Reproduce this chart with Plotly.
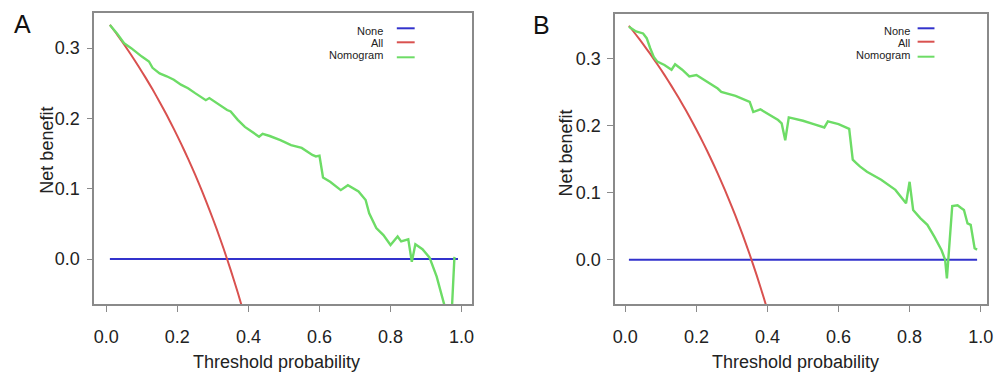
import plotly.graph_objects as go

# ---------------- data ----------------
none_x = [0.01, 0.99]
none_y = [0.0, 0.0]

# Panel A
all_x_A = [0.01, 0.03, 0.05, 0.07, 0.09, 0.11, 0.13, 0.15, 0.17, 0.19, 0.21,
           0.23, 0.25, 0.27, 0.29, 0.31, 0.33, 0.35, 0.37, 0.39]
all_y_A = [0.3333, 0.3196, 0.3053, 0.2903, 0.2747, 0.2584, 0.2414, 0.2235,
           0.2048, 0.1852, 0.1646, 0.1429, 0.1200, 0.0959, 0.0704, 0.0435,
           0.0149, -0.0154, -0.0476, -0.0820]
nomo_x_A = [0.01, 0.03, 0.05, 0.07, 0.10, 0.12, 0.13, 0.15, 0.17, 0.19,
            0.21, 0.23, 0.25, 0.27, 0.28, 0.29, 0.31, 0.34, 0.35, 0.37,
            0.39, 0.42, 0.43, 0.44, 0.46, 0.49, 0.52, 0.55, 0.58, 0.59,
            0.60, 0.61, 0.63, 0.66, 0.68, 0.71, 0.73, 0.74, 0.76, 0.78,
            0.80, 0.82, 0.83, 0.85, 0.86, 0.87, 0.89, 0.91, 0.93, 0.97,
            0.98]
nomo_y_A = [0.333, 0.321, 0.307, 0.300, 0.288, 0.281, 0.272, 0.264, 0.260, 0.255,
            0.248, 0.243, 0.236, 0.229, 0.226, 0.229, 0.222, 0.212, 0.210, 0.198,
            0.188, 0.177, 0.174, 0.178, 0.175, 0.169, 0.162, 0.158, 0.148, 0.146,
            0.147, 0.116, 0.110, 0.098, 0.105, 0.096, 0.084, 0.065, 0.044, 0.034,
            0.020, 0.032, 0.025, 0.028, -0.004, 0.021, 0.014, 0.002, -0.025, -0.100,
            0.003]

# Panel B
all_x_B = [0.01, 0.03, 0.05, 0.07, 0.09, 0.11, 0.13, 0.15, 0.17, 0.19, 0.21,
           0.23, 0.25, 0.27, 0.29, 0.31, 0.33, 0.35, 0.37, 0.39, 0.41]
all_y_B = [0.3485, 0.3351, 0.3211, 0.3065, 0.2912, 0.2753, 0.2586, 0.2412,
           0.2229, 0.2037, 0.1835, 0.1623, 0.1400, 0.1164, 0.0915, 0.0652,
           0.0373, 0.0077, -0.0238, -0.0574, -0.0932]
nomo_x_B = [0.01, 0.03, 0.05, 0.06, 0.07, 0.08, 0.09, 0.11, 0.13, 0.14,
            0.16, 0.18, 0.20, 0.22, 0.26, 0.27, 0.31, 0.35, 0.36, 0.38,
            0.40, 0.43, 0.44, 0.45, 0.46, 0.50, 0.53, 0.56, 0.57, 0.60,
            0.63, 0.64, 0.65, 0.66, 0.68, 0.72, 0.76, 0.79, 0.80, 0.81,
            0.83, 0.85, 0.87, 0.89, 0.90, 0.905, 0.92, 0.935, 0.945, 0.953,
            0.963, 0.972, 0.983, 0.99]
nomo_y_B = [0.347, 0.340, 0.337, 0.330, 0.315, 0.302, 0.295, 0.290, 0.283, 0.291,
            0.283, 0.273, 0.275, 0.268, 0.255, 0.250, 0.244, 0.235, 0.220, 0.224,
            0.218, 0.208, 0.203, 0.178, 0.212, 0.207, 0.202, 0.197, 0.206, 0.202,
            0.195, 0.149, 0.144, 0.139, 0.131, 0.119, 0.104, 0.084, 0.116, 0.074,
            0.062, 0.052, 0.034, 0.014, 0.000, -0.028, 0.080, 0.081, 0.077, 0.074,
            0.054, 0.052, 0.017, 0.015]

x_ticks = [0.0, 0.2, 0.4, 0.6, 0.8, 1.0]
y_ticks = [0.0, 0.1, 0.2, 0.3]
legend_labels = ["None", "All", "Nomogram"]

# ---------------- style ----------------
W, H = 999, 373
C_NONE = "#3232cc"
C_ALL = "#d9514f"
C_NOMO = "#6ddc66"
FONT = "Liberation Sans, Arial, sans-serif"
TXT = "#222222"
BOX = "#8a8a8a"

fig = go.Figure()

def px_x(p):
    return p / W

def px_y(p):
    return 1 - p / H

panels = [
    dict(xa="x", ya="y", ax="xaxis", ay="yaxis",
         dom_x=(93, 474), dom_y=(13, 304),
         xr=[-0.034, 1.030], yr=[-0.064, 0.350],
         data=(all_x_A, all_y_A, nomo_x_A, nomo_y_A),
         label="A", label_pos=(21, 24), ylab_x=45, ylab_y=150, xlab_x=277,
         leg_text_right=385, leg_line=(398, 416),
         leg_text_y=(31.5, 43, 55), leg_line_y=(28.3, 42.3, 57.3)),
    dict(xa="x2", ya="y2", ax="xaxis2", ay="yaxis2",
         dom_x=(618, 993), dom_y=(14, 304),
         xr=[-0.029, 1.018], yr=[-0.066, 0.366],
         data=(all_x_B, all_y_B, nomo_x_B, nomo_y_B),
         label="B", label_pos=(544, 25), ylab_x=569, ylab_y=153, xlab_x=800,
         leg_text_right=916, leg_line=(923, 940),
         leg_text_y=(31.5, 43, 55), leg_line_y=(28.3, 41.7, 56.7)),
]

annotations = []
shapes = []
for pn in panels:
    ax_, ay_, nx, ny = pn["data"]
    fig.add_trace(go.Scatter(x=none_x, y=none_y, mode="lines",
                             line=dict(color=C_NONE, width=2),
                             xaxis=pn["xa"], yaxis=pn["ya"], showlegend=False))
    fig.add_trace(go.Scatter(x=ax_, y=ay_, mode="lines",
                             line=dict(color=C_ALL, width=2, shape="spline", smoothing=0.6),
                             xaxis=pn["xa"], yaxis=pn["ya"], showlegend=False))
    fig.add_trace(go.Scatter(x=nx, y=ny, mode="lines",
                             line=dict(color=C_NOMO, width=2.4),
                             xaxis=pn["xa"], yaxis=pn["ya"], showlegend=False))

    common = dict(showgrid=False, zeroline=False, showline=True, mirror=True,
                  linecolor=BOX, linewidth=1.5, ticks="outside", ticklen=6,
                  tickcolor=BOX, tickwidth=1.2,
                  tickfont=dict(family=FONT, size=18, color=TXT))
    fig.update_layout(**{
        pn["ax"]: dict(domain=[px_x(pn["dom_x"][0]), px_x(pn["dom_x"][1])],
                       range=pn["xr"], tickvals=x_ticks, tickformat=".1f",
                       anchor=pn["ya"], ticklabelstandoff=10, **common),
        pn["ay"]: dict(domain=[px_y(pn["dom_y"][1]), px_y(pn["dom_y"][0])],
                       range=pn["yr"], tickvals=y_ticks, tickformat=".1f",
                       anchor=pn["xa"], ticklabelstandoff=3, **common),
    })

    # panel label
    annotations.append(dict(text=pn["label"], x=px_x(pn["label_pos"][0]),
                            y=px_y(pn["label_pos"][1]), xref="paper", yref="paper",
                            showarrow=False, xanchor="center", yanchor="middle",
                            font=dict(family=FONT, size=25, color="#111111")))
    # axis titles
    annotations.append(dict(text="Net benefit", x=px_x(pn["ylab_x"]),
                            y=px_y(pn["ylab_y"]), xref="paper", yref="paper",
                            showarrow=False, textangle=-90, xanchor="center",
                            yanchor="middle",
                            font=dict(family=FONT, size=18, color=TXT)))
    annotations.append(dict(text="Threshold probability", x=px_x(pn["xlab_x"]),
                            y=px_y(362), xref="paper", yref="paper",
                            showarrow=False, xanchor="center", yanchor="middle",
                            font=dict(family=FONT, size=18, color=TXT)))
    # legend
    for lab, col, ty, ly in zip(legend_labels, [C_NONE, C_ALL, C_NOMO],
                                pn["leg_text_y"], pn["leg_line_y"]):
        annotations.append(dict(text=lab, x=px_x(pn["leg_text_right"]),
                                y=px_y(ty), xref="paper", yref="paper",
                                showarrow=False, xanchor="right", yanchor="middle",
                                borderpad=0,
                                font=dict(family=FONT, size=11, color=TXT)))
        shapes.append(dict(type="line", xref="paper", yref="paper",
                           x0=px_x(pn["leg_line"][0]), x1=px_x(pn["leg_line"][1]),
                           y0=px_y(ly), y1=px_y(ly),
                           line=dict(color=col, width=2)))

fig.update_layout(width=W, height=H, margin=dict(l=0, r=0, t=0, b=0),
                  paper_bgcolor="white", plot_bgcolor="white",
                  annotations=annotations, shapes=shapes, showlegend=False)

fig.write_html("out.html",
               config={"displayModeBar": False},
               post_script="document.body.style.margin='0';"
                           "document.body.style.overflow='hidden';")
